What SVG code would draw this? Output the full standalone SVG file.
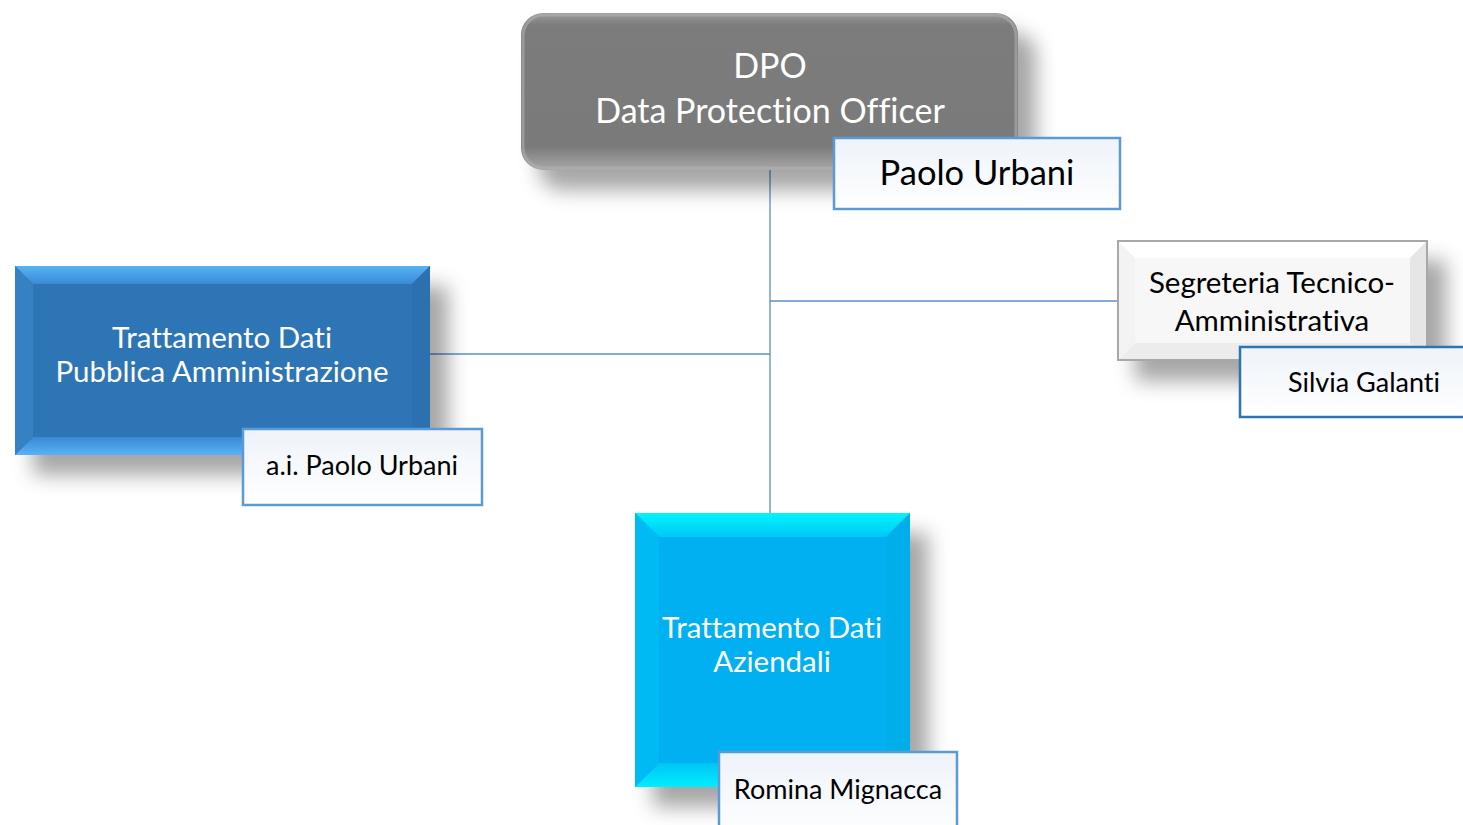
<svg xmlns="http://www.w3.org/2000/svg" width="1463" height="825" viewBox="0 0 1463 825">
<defs>
<filter id="sh" x="-20%" y="-20%" width="150%" height="160%">
<feDropShadow dx="18" dy="20" stdDeviation="10" flood-color="#000" flood-opacity="0.35"/>
</filter>
<linearGradient id="gDpo" x1="0" y1="0" x2="0" y2="1">
<stop offset="0" stop-color="#9a9a9a"/>
<stop offset="0.08" stop-color="#7b7b7b"/>
<stop offset="0.85" stop-color="#7a7a7a"/>
<stop offset="1" stop-color="#a8a8a8"/>
</linearGradient>
<linearGradient id="gLab" x1="0" y1="0" x2="0" y2="1">
<stop offset="0" stop-color="#eef3fa"/>
<stop offset="1" stop-color="#ffffff"/>
</linearGradient>
<linearGradient id="gPaT" x1="0" y1="0" x2="0" y2="1">
<stop offset="0" stop-color="#55b4f5"/>
<stop offset="1" stop-color="#3a8ad6"/>
</linearGradient>
<linearGradient id="gPaB" x1="0" y1="1" x2="0" y2="0">
<stop offset="0" stop-color="#5ab2f6"/>
<stop offset="1" stop-color="#3a88d2"/>
</linearGradient>
<linearGradient id="gAzT" x1="0" y1="0" x2="0" y2="1">
<stop offset="0" stop-color="#00f4ff"/>
<stop offset="1" stop-color="#00c8f6"/>
</linearGradient>
<linearGradient id="gAzB" x1="0" y1="1" x2="0" y2="0">
<stop offset="0" stop-color="#00eeff"/>
<stop offset="1" stop-color="#00c4f4"/>
</linearGradient>
<style>
.conn{stroke:#5b8ec8;stroke-width:1.3;fill:none}
.lab{fill:url(#gLab);stroke:#5b9bd5;stroke-width:2.5}
.wt{font-family:Lato,"Open Sans",sans-serif;fill:#ffffff;text-anchor:middle;font-variant-ligatures:none}
.bt{font-family:Lato,"Open Sans",sans-serif;fill:#000000;text-anchor:middle;font-variant-ligatures:none}
</style>
</defs>
<rect width="1463" height="825" fill="#ffffff"/>

<g id="connectors">
<line class="conn" x1="770" y1="165" x2="770" y2="514"/>
<line class="conn" x1="770" y1="301" x2="1118" y2="301"/>
<line class="conn" x1="430" y1="354" x2="770" y2="354"/>
</g>

<g id="node-dpo">
<rect x="521" y="13" width="497" height="157" rx="22" fill="url(#gDpo)" filter="url(#sh)"/>
<rect x="523" y="15" width="493" height="153" rx="21" fill="none" stroke="#b0b0b0" stroke-width="3" opacity="0.6"/>
<text class="wt" x="770" y="78" font-size="34">DPO</text>
<text class="wt" x="770" y="123" font-size="34">Data Protection Officer</text>
</g>
<g id="label-dpo">
<rect class="lab" x="834" y="138" width="286" height="71"/>
<text class="bt" x="977" y="185" font-size="34.5">Paolo Urbani</text>
</g>

<g id="node-pa">
<rect x="15" y="266" width="415" height="189" fill="#2e74b5" filter="url(#sh)"/>
<polygon points="15,266 430,266 412,284 33,284" fill="url(#gPaT)"/>
<polygon points="15,455 430,455 412,437 33,437" fill="url(#gPaB)"/>
<polygon points="15,266 33,284 33,437 15,455" fill="#3680c4"/>
<polygon points="430,266 412,284 412,437 430,455" fill="#2d70b0"/>
<text class="wt" x="222" y="348" font-size="29.5">Trattamento Dati</text>
<text class="wt" x="222" y="382" font-size="29.5">Pubblica Amministrazione</text>
</g>
<g id="label-pa">
<rect class="lab" x="243" y="429" width="239" height="76"/>
<text class="bt" x="362" y="475" font-size="27">a.i. Paolo Urbani</text>
</g>

<g id="node-seg">
<rect x="1117" y="240" width="311" height="121" fill="#f7f7f7" filter="url(#sh)"/>
<polygon points="1117,240 1428,240 1410,258 1135,258" fill="#ffffff"/>
<polygon points="1117,361 1428,361 1410,343 1135,343" fill="#ececec"/>
<polygon points="1117,240 1135,258 1135,343 1117,361" fill="#f3f3f3"/>
<polygon points="1428,240 1410,258 1410,343 1428,361" fill="#e6e6e6"/>
<rect x="1118" y="241" width="309" height="119" fill="none" stroke="#a8a8a8" stroke-width="2"/>
<text class="bt" x="1272" y="293" font-size="29.5">Segreteria Tecnico-</text>
<text class="bt" x="1272" y="331" font-size="29.5">Amministrativa</text>
</g>
<g id="label-seg">
<rect class="lab" x="1240" y="347" width="230" height="70" style="stroke:#2e74b5"/>
<text class="bt" x="1364" y="392" font-size="27">Silvia Galanti</text>
</g>

<g id="node-az">
<rect x="635" y="513" width="275" height="274" fill="#00b0f0" filter="url(#sh)"/>
<polygon points="635,513 910,513 886,537 659,537" fill="url(#gAzT)"/>
<polygon points="635,787 910,787 886,763 659,763" fill="url(#gAzB)"/>
<polygon points="635,513 659,537 659,763 635,787" fill="#00bbf3"/>
<polygon points="910,513 886,537 886,763 910,787" fill="#00aeea"/>
<text class="wt" x="772" y="638" font-size="29.5">Trattamento Dati</text>
<text class="wt" x="772" y="672" font-size="29.5">Aziendali</text>
</g>
<g id="label-az">
<rect class="lab" x="719" y="752" width="238" height="90"/>
<text class="bt" x="838" y="799" font-size="27">Romina Mignacca</text>
</g>
</svg>
